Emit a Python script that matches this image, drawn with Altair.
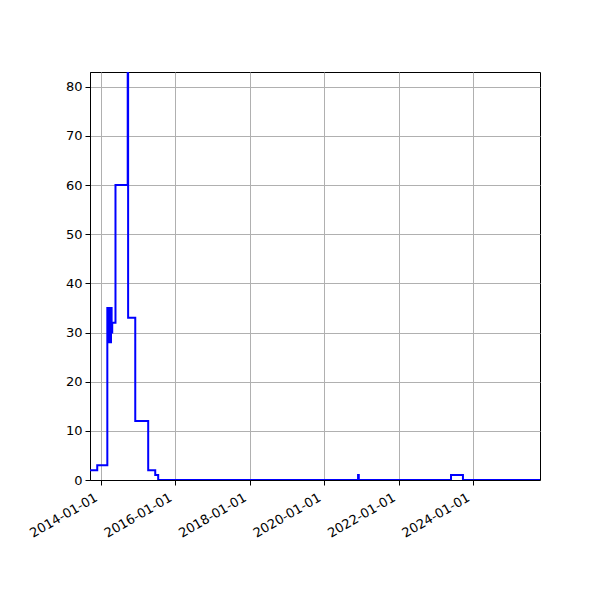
import altair as alt
import pandas as pd

dates = ["2013-09-15", "2013-11-25", "2014-03-04", "2014-03-10", "2014-03-16",
         "2014-03-22", "2014-03-28", "2014-04-03", "2014-04-09", "2014-04-15",
         "2014-04-21", "2014-05-23", "2014-09-20", "2014-09-24", "2014-12-03",
         "2015-04-09", "2015-06-17", "2015-07-16", "2020-11-27", "2020-12-04",
         "2023-05-28", "2023-09-22", "2025-10-17"]
values = [2, 3, 35, 28, 35, 29, 35, 28, 35, 30, 32, 60, 83, 33, 12, 2, 1, 0, 1, 0, 1, 0, 0]

tick_years = [2014, 2016, 2018, 2020, 2022, 2024]
y_ticks = [0, 10, 20, 30, 40, 50, 60, 70, 80]

df = pd.DataFrame({"date": dates, "value": values})

font = "DejaVu Sans"

chart = alt.Chart(df).mark_line(
    interpolate="step-after", color="#0000ff", strokeWidth=2, clip=True
).encode(
    x=alt.X("date:T",
            scale=alt.Scale(type="utc",
                            domain=[alt.DateTime(year=2013, month=9, date=15, utc=True),
                                    alt.DateTime(year=2025, month=10, date=17, utc=True)]),
            axis=alt.Axis(title=None, format="%Y-%m-%d",
                          values=[alt.DateTime(year=y, month=1, date=1, utc=True) for y in tick_years],
                          labelAngle=330, labelAlign="right", labelBaseline="top",
                          labelPadding=6, labelOffset=-8, labelFont=font, labelFontSize=13,
                          labelColor="black", tickColor="black", tickSize=5,
                          domainColor="black", gridColor="#b0b0b0", gridWidth=1,
                          labelOverlap=False)),
    y=alt.Y("value:Q",
            scale=alt.Scale(domain=[0, 83], nice=False, zero=True),
            axis=alt.Axis(title=None, values=y_ticks, labelFont=font, labelFontSize=13,
                          labelColor="black", tickColor="black", tickSize=5,
                          domainColor="black", gridColor="#b0b0b0", gridWidth=1,
                          labelPadding=3)),
).properties(
    width=450, height=408,
    autosize=alt.AutoSizeParams(type="none"),
    padding={"left": 82, "top": 64, "right": 52, "bottom": 112},
).configure_view(stroke="black", strokeWidth=1)

chart.save("out.html", embed_options={"renderer": "svg", "actions": False})
